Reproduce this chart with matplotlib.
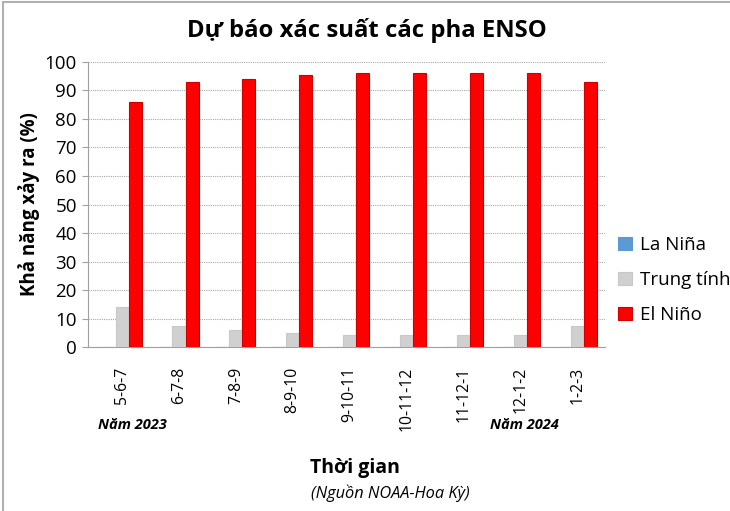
import matplotlib
matplotlib.use("Agg")
import matplotlib.pyplot as plt
import numpy as np
from matplotlib.patches import Rectangle

plt.rcParams['font.family'] = ['Open Sans', 'DejaVu Sans']

categories = ["5-6-7", "6-7-8", "7-8-9", "8-9-10", "9-10-11", "10-11-12", "11-12-1", "12-1-2", "1-2-3"]
la_nina = [0, 0, 0, 0, 0, 0, 0, 0, 0]
trung_tinh = [14, 7.5, 6, 5, 4.3, 4.3, 4.3, 4.3, 7.5]
el_nino = [86, 93, 94, 95.3, 96, 96, 96, 96, 93]
series_names = ["La Niña", "Trung tính", "El Niño"]
colors = ["#5B9BD5", "#D0D0D0", "#FF0000"]
edges = ["#5B9BD5", "#C8C8C8", "#D00000"]

fig = plt.figure(figsize=(7.3, 5.11), dpi=100)
fig.patches.append(Rectangle((0.004, -0.01), 1.2, 1.006, transform=fig.transFigure,
                             fill=False, edgecolor="#B0B0B0", linewidth=1.5))
ax = fig.add_axes([0.1205, 0.3209, 0.7083, 0.5578])

x = np.arange(len(categories))
w = 0.23
for vals, off, c, ec, name in zip([la_nina, trung_tinh, el_nino], [-w, 0, w], colors, edges, series_names):
    ax.bar(x + off, vals, width=w, color=c, edgecolor=ec, linewidth=0.8, label=name, zorder=3)

ax.set_xlim(-0.6, 8.49)
ax.set_ylim(0, 100)
ax.set_yticks(np.arange(0, 101, 10))
ax.yaxis.grid(True, linestyle=(0, (1, 1)), color="#A8A8A8", linewidth=0.8)
ax.set_axisbelow(True)
for s in ["top", "right"]:
    ax.spines[s].set_visible(False)
for s in ["left", "bottom"]:
    ax.spines[s].set_color("#A0A0A0")
ax.tick_params(axis="y", length=4, color="#A0A0A0", labelsize=13.5, pad=4)
ax.tick_params(axis="x", length=0, labelsize=11.3, pad=14)
ax.set_xticks(x)
ax.set_xticklabels(categories, rotation=90)

ax.set_ylabel("Khả năng xảy ra (%)", fontsize=13.5, fontweight="bold", labelpad=3)

fig.text(0.503, 0.94, "Dự báo xác suất các pha ENSO", ha="center", va="center",
         fontsize=17.2, fontweight="bold")
fig.text(0.181, 0.168, "Năm 2023", ha="center", va="center", fontsize=10.5,
         fontweight="bold", style="italic")
fig.text(0.718, 0.168, "Năm 2024", ha="center", va="center", fontsize=10.5,
         fontweight="bold", style="italic")
fig.text(0.486, 0.084, "Thời gian", ha="center", va="center", fontsize=14, fontweight="bold")
fig.text(0.534, 0.035, "(Nguồn NOAA-Hoa Kỳ)", ha="center", va="center", fontsize=11.8,
         style="italic", fontweight="medium")

leg = ax.legend(loc="center left", bbox_to_anchor=(1.0, 0.235), frameon=False,
                fontsize=13.5, handlelength=0.75, handleheight=0.75, handletextpad=0.4,
                labelspacing=0.9, borderaxespad=0.3)

fig.savefig("out.png", dpi=100)
